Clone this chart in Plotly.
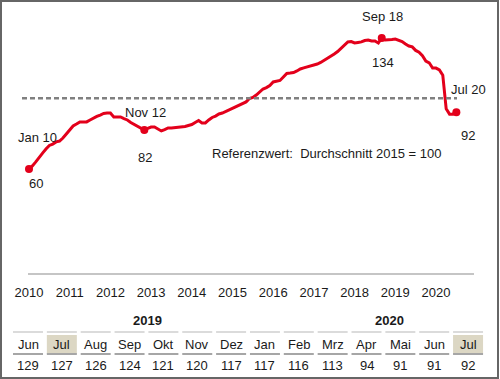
import plotly.graph_objects as go

# ---------------- data ----------------
start_year = 2010
values = [
    60, 61.7, 64, 66.2, 69, 71.3, 73.3, 74.1, 75.3, 75.8, 77.5, 79.8,            # 2010
    82.3, 84.3, 85.4, 86.6, 86.6, 86.6, 87.7, 88.8, 89.7, 90.5, 91.4, 91.6,      # 2011
    91.6, 89.4, 89.4, 89.4, 88.5, 87.7, 86.3, 85.1, 84, 82.9, 82, 82.9,          # 2012
    83.7, 83.7, 82.6, 81.5, 82.3, 83.2, 83.2, 83.4, 83.4, 83.7, 84, 84.6,        # 2013
    85.1, 86.3, 87.4, 86, 86, 87.7, 89.1, 89.9, 91.1, 91.6, 92.5, 93.3,          # 2014
    94.2, 95.3, 96.2, 97, 97.9, 99.8, 100.4, 101.8, 103.8, 105.2, 106, 107.2,    # 2015
    109.2, 109.7, 110, 112, 114, 114.2, 114.5, 115.4, 116.5, 117.1, 117.6, 118.2,  # 2016
    119, 119.3, 120.2, 121.3, 122.4, 123.8, 125, 126.4, 128.1, 130.1, 131.8, 132,  # 2017
    131.2, 131.5, 131.8, 132.6, 132.9, 132.3, 132.3, 131.2, 134, 132.9, 132.9, 133.2,  # 2018
    133.4, 132.9, 132, 130.6, 129.5, 129, 127, 126, 124, 121, 120, 117,          # 2019
    117, 116, 113, 94, 91, 91, 92,                                               # 2020
]
x_years = [start_year + i / 12 for i in range(len(values))]

highlight_idx = [0, 34, 104, 126]
highlight_names = ["Jan 10", "Nov 12", "Sep 18", "Jul 20"]

ref_value = 100
ref_text = "Referenzwert:\u00a0\u00a0Durchschnitt 2015 = 100"

year_ticks = list(range(2010, 2021))

table_groups = ["2019", "2020"]
table_months = ["Jun", "Jul", "Aug", "Sep", "Okt", "Nov", "Dez",
                "Jan", "Feb", "Mrz", "Apr", "Mai", "Jun", "Jul"]
table_values = [129, 127, 126, 124, 121, 120, 117, 117, 116, 113, 94, 91, 91, 92]
table_highlight = [1, 13]

# ---------------- layout helpers ----------------
W, H = 500, 379
PX_PER_YEAR = 40.7
X2010_PX = 29
PX_PER_UNIT = 1.77
Y60_PX = 169
x_range = [2010 - X2010_PX / PX_PER_YEAR, 2010 + (W - X2010_PX) / PX_PER_YEAR]
y_range = [60 - (H - Y60_PX) / PX_PER_UNIT, 60 + Y60_PX / PX_PER_UNIT]

def px(xp):
    return xp / W

def py(yp):
    return 1 - yp / H

RED = "#e3001b"
TXT = "#1a1a1a"
FONT = "Liberation Sans, Arial, sans-serif"
FS = 13

fig = go.Figure()

fig.add_trace(go.Scatter(
    x=x_years, y=values, mode="lines",
    line=dict(color=RED, width=3), hoverinfo="skip", showlegend=False,
))
fig.add_trace(go.Scatter(
    x=[x_years[i] for i in highlight_idx], y=[values[i] for i in highlight_idx],
    mode="markers", marker=dict(color=RED, size=8), hoverinfo="skip", showlegend=False,
))

shapes = []
# reference dashed line
shapes.append(dict(type="line", xref="x", yref="y",
                   x0=2010 - 7 / PX_PER_YEAR, x1=2010 + 428 / PX_PER_YEAR,
                   y0=ref_value, y1=ref_value,
                   line=dict(color="#808080", width=2.5, dash="5px,3px")))
# baseline of x axis
shapes.append(dict(type="line", xref="paper", yref="paper",
                   x0=px(28), x1=px(474), y0=py(274), y1=py(274),
                   line=dict(color="#8c8c8c", width=1.2)))

annotations = []
def note(text, x, y, xref="paper", yref="paper", dx=0, dy=0, bold=False):
    annotations.append(dict(x=x, y=y, xref=xref, yref=yref,
                            text=("<b>%s</b>" % text) if bold else text,
                            showarrow=False, xshift=dx, yshift=dy,
                            xanchor="center", yanchor="middle",
                            font=dict(family=FONT, size=FS, color=TXT)))

def label(text, xi, dx, dy):
    note(text, x_years[xi], values[xi], "x", "y", dx, dy)

label(highlight_names[0], highlight_idx[0], 8, 32)
label(f"{values[highlight_idx[0]]:.0f}", highlight_idx[0], 7, -14)
label(highlight_names[1], highlight_idx[1], 1, 18)
label(f"{values[highlight_idx[1]]:.0f}", highlight_idx[1], 1, -27)
label(highlight_names[2], highlight_idx[2], 1, 22)
label(f"{values[highlight_idx[2]]:.0f}", highlight_idx[2], 1, -24)
label(highlight_names[3], highlight_idx[3], 12, 23)
label(f"{values[highlight_idx[3]]:.0f}", highlight_idx[3], 12, -23)

note(ref_text, px(326), py(153))

# ---------------- table ----------------
col0, col_step, cell_w = 28, 33.85, 30
note(table_groups[0], px(147), py(320), bold=True)
note(table_groups[1], px(389), py(320), bold=True)
for k, (m, v) in enumerate(zip(table_months, table_values)):
    cx = col0 + col_step * k
    if k in table_highlight:
        shapes.append(dict(type="rect", xref="paper", yref="paper", layer="below",
                           x0=px(cx - cell_w / 2), x1=px(cx + cell_w / 2),
                           y0=py(354), y1=py(335),
                           fillcolor="#dcd7c4", line=dict(width=0)))
    shapes.append(dict(type="line", xref="paper", yref="paper",
                       x0=px(cx - cell_w / 2), x1=px(cx + cell_w / 2), y0=py(332), y1=py(332),
                       line=dict(color="#cfcfcf", width=1.5)))
    shapes.append(dict(type="line", xref="paper", yref="paper",
                       x0=px(cx - cell_w / 2), x1=px(cx + cell_w / 2), y0=py(354), y1=py(354),
                       line=dict(color="#a6a6a6", width=2)))
    note(m, px(cx), py(344))
    note(str(v), px(cx), py(365))

# outer border
shapes.append(dict(type="rect", xref="paper", yref="paper",
                   x0=px(1), x1=px(498), y0=py(378), y1=py(1),
                   line=dict(color="#666666", width=2), fillcolor="rgba(0,0,0,0)"))

fig.update_layout(
    width=W, height=H,
    margin=dict(l=0, r=0, t=0, b=0),
    paper_bgcolor="white", plot_bgcolor="white",
    showlegend=False,
    shapes=shapes, annotations=annotations,
    xaxis=dict(range=x_range, anchor="free", position=py(274),
               tickvals=year_ticks, ticktext=[str(y) for y in year_ticks],
               showgrid=False, zeroline=False, showline=False, ticks="",
               ticklabelstandoff=9, automargin=False,
               tickfont=dict(family=FONT, size=FS, color=TXT), fixedrange=True),
    yaxis=dict(range=y_range, visible=False, showgrid=False, zeroline=False,
               automargin=False, fixedrange=True),
)

fig.write_html("out.html", config={"displayModeBar": False},
               post_script="document.body.style.margin='0';document.body.style.overflow='hidden';")
